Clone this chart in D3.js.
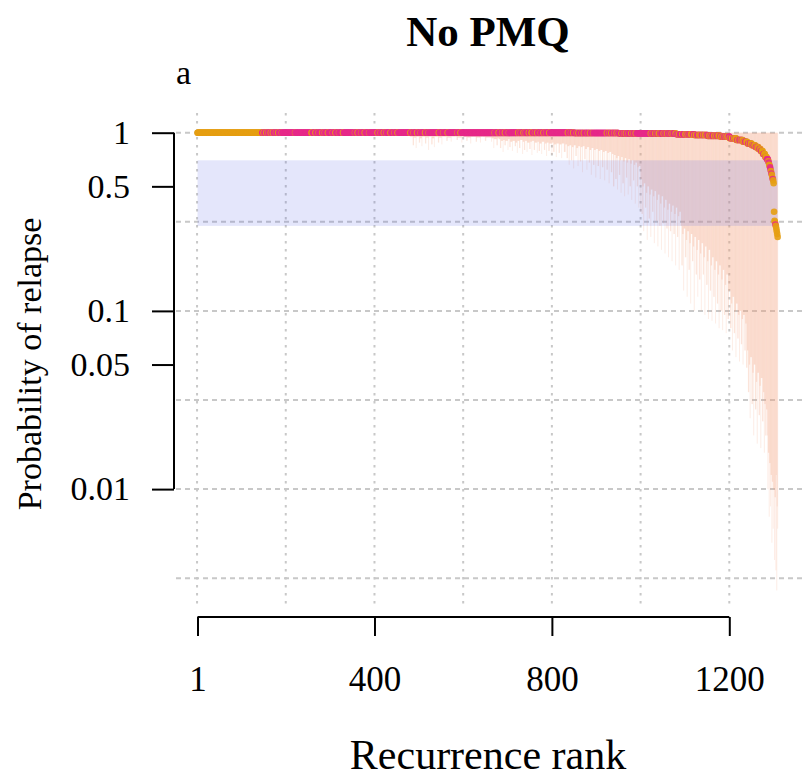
<!DOCTYPE html>
<html>
<head>
<meta charset="utf-8">
<script src="https://cdn.jsdelivr.net/npm/d3@7"></script>
<style>
  html, body { margin: 0; padding: 0; background: #fff; }
  svg text { font-family: "Liberation Serif", "DejaVu Serif", serif; fill: #000; }
</style>
</head>
<body>
<svg id="chart" width="802" height="779"></svg>
<script>
// ---- Data -------------------------------------------------------------
// Posterior probability of relapse per recurrence, sorted by rank.
// Stored as runs: [number of recurrences, probability].
const probRuns = [
  [600, 0.999], [250, 0.998], [100, 0.996], [70, 0.993], [60, 0.99],
  [40, 0.98], [30, 0.97], [30, 0.96], [20, 0.95], [15, 0.93], [15, 0.91],
  [10, 0.89], [10, 0.87], [8, 0.85], [7, 0.83], [5, 0.81], [5, 0.79],
  [5, 0.76], [4, 0.73], [3, 0.71]
];
// Last recurrences, one value each.
const probTail = [
  0.69, 0.68, 0.66, 0.65, 0.64, 0.62, 0.61, 0.59, 0.58, 0.56, 0.55, 0.54, 0.52,
  0.36, 0.32, 0.315, 0.305, 0.30, 0.29, 0.28, 0.27, 0.26
];

// Group of each recurrence (o = first group, p = second group), as runs.
const groupRuns = [
  [146,'o'],
  [3,'p'],[2,'o'],[4,'p'],[2,'o'],[3,'p'],[1,'o'],[4,'p'],[2,'o'],[3,'p'],[2,'o'],[5,'p'],[1,'o'],[4,'p'],[2,'o'],[6,'p'],[1,'o'],[9,'p'],
  [20,'p'],[1,'o'],[36,'p'],
  [3,'o'],[6,'p'],[2,'o'],[5,'p'],[1,'o'],[7,'p'],[2,'o'],[4,'p'],[1,'o'],[6,'p'],[2,'o'],[9,'p'],[1,'o'],[5,'p'],[2,'o'],[6,'p'],[1,'o'],[8,'p'],[2,'o'],[10,'p'],
  [15,'p'],[1,'o'],[5,'p'],[2,'o'],[6,'p'],[1,'o'],[7,'p'],[2,'o'],[8,'p'],[1,'o'],[12,'p'],
  [6,'p'],[2,'o'],[5,'p'],[1,'o'],[6,'p'],[2,'o'],[4,'p'],[1,'o'],[8,'p'],[2,'o'],[7,'p'],[1,'o'],[6,'p'],[2,'o'],[17,'p'],
  [10,'p'],[2,'o'],[5,'p'],[1,'o'],[7,'p'],[2,'o'],[6,'p'],[1,'o'],[9,'p'],[2,'o'],[6,'p'],[1,'o'],[18,'p'],
  [4,'p'],[2,'o'],[8,'p'],[1,'o'],[9,'p'],[2,'o'],[20,'p'],[1,'o'],[6,'p'],[2,'o'],[45,'p'],
  [30,'p'],[1,'o'],[8,'p'],[2,'o'],[6,'p'],[1,'o'],[5,'p'],[2,'o'],[7,'p'],[1,'o'],[17,'p'],
  [3,'p'],[2,'o'],[4,'p'],[1,'o'],[5,'p'],[2,'o'],[3,'p'],[1,'o'],[6,'p'],[2,'o'],[4,'p'],[3,'o'],[5,'p'],[1,'o'],[4,'p'],[2,'o'],[6,'p'],[1,'o'],[5,'p'],[2,'o'],[4,'p'],[1,'o'],[6,'p'],[2,'o'],[25,'p'],
  [15,'p'],[2,'o'],[5,'p'],[1,'o'],[4,'p'],[2,'o'],[6,'p'],[1,'o'],[3,'p'],[2,'o'],[5,'p'],[1,'o'],[4,'p'],[2,'o'],[7,'p'],[1,'o'],[4,'p'],[2,'o'],[5,'p'],[1,'o'],[27,'p'],
  [3,'p'],[2,'o'],[4,'p'],[1,'o'],[3,'p'],[2,'o'],[5,'p'],[1,'o'],[4,'p'],[2,'o'],[3,'p'],[1,'o'],[5,'p'],[2,'o'],[4,'p'],[1,'o'],[3,'p'],[2,'o'],[4,'p'],[1,'o'],[5,'p'],[2,'o'],[3,'p'],[1,'o'],[4,'p'],[2,'o'],[30,'p'],
  [2,'p'],[2,'o'],[3,'p'],[1,'o'],[4,'p'],[2,'o'],[2,'p'],[1,'o'],[3,'p'],[3,'o'],[2,'p'],[1,'o'],[5,'p'],[2,'o'],[3,'p'],[1,'o'],[2,'p'],[2,'o'],[4,'p'],[1,'o'],[3,'p'],[2,'o'],[2,'p'],[1,'o'],[4,'p'],[2,'o'],[3,'p'],[1,'o'],[2,'p'],[2,'o'],[5,'p'],[2,'o'],[5,'p'],
  [3,'o'],[2,'p'],[2,'o'],[3,'p'],[1,'o'],[2,'p'],[4,'o'],[3,'p'],[2,'o'],[2,'p'],[3,'o'],[4,'p'],[2,'o'],[1,'p'],[3,'o'],[3,'p'],[2,'o'],[2,'p'],[4,'o'],[2,'p'],[1,'o'],[3,'p'],[3,'o'],[2,'p'],[2,'o'],[4,'p'],[3,'o'],[2,'p'],[2,'o'],[3,'p'],[4,'o'],[2,'p'],[3,'o'],[2,'p'],[2,'o'],[3,'p'],[2,'o'],[2,'p'],[3,'o'],[2,'p'],
  [2,'o'],[3,'p'],[3,'o'],[2,'p'],[2,'o'],[1,'p'],[4,'o'],[2,'p'],[3,'o'],[3,'p'],[2,'o'],[2,'p'],[3,'o'],[1,'p'],[2,'o'],[3,'p'],[4,'o'],[2,'p'],[2,'o'],[2,'p'],[3,'o'],[1,'p'],[2,'o'],[2,'p'],[3,'o'],[2,'p'],[2,'o'],[1,'p'],[3,'o'],[2,'p'],[2,'o'],[2,'p'],[3,'o'],[2,'p'],[2,'o'],[1,'p'],[3,'o'],[3,'p'],
  [1,'o'],[1,'p'],[2,'o'],[2,'p'],[1,'o'],[1,'p'],[2,'o'],[1,'p'],[2,'o'],
  [3,'o'],[1,'p'],[5,'o']
];

// Lower end of each credible interval (upper end is 1), as runs
// [number of recurrences, lower bound].
const lowerRuns = [
  [250,0.985],[230,0.97],
  // ranks 481-680
  [6,0.95],[2,0.85],[5,0.94],[1,0.82],[6,0.95],[2,0.88],[4,0.93],[1,0.84],[7,0.95],[2,0.87],[5,0.94],[1,0.8],
  [6,0.95],[2,0.86],[4,0.93],[1,0.83],[8,0.95],[2,0.88],[6,0.94],[1,0.86],[10,0.95],[2,0.9],[8,0.94],[1,0.89],
  [12,0.95],[2,0.91],[9,0.94],[1,0.88],[10,0.95],[2,0.9],[7,0.94],[1,0.87],[11,0.95],[2,0.89],[8,0.94],[1,0.88],
  [10,0.95],[2,0.9],[12,0.94],[1,0.89],[4,0.93],[1,0.82],[6,0.92],[2,0.85],[3,0.93],
  // ranks 681-830
  [3,0.92],[2,0.82],[4,0.9],[1,0.78],[3,0.91],[2,0.85],[5,0.9],[1,0.8],[3,0.92],[2,0.83],[4,0.89],[1,0.79],
  [5,0.9],[2,0.84],[3,0.88],[1,0.77],[4,0.9],[2,0.82],[5,0.91],[1,0.76],[3,0.89],[2,0.8],[4,0.9],[1,0.78],
  [5,0.88],[2,0.81],[3,0.89],[1,0.75],[4,0.9],[2,0.8],[5,0.88],[1,0.77],[3,0.89],[2,0.79],[4,0.87],[1,0.76],
  [5,0.89],[2,0.8],[3,0.87],[1,0.74],[4,0.88],[2,0.79],[5,0.87],[1,0.75],[3,0.88],[2,0.78],[4,0.86],[1,0.73],
  [5,0.87],[2,0.77],[4,0.86],[1,0.72],[5,0.87],[3,0.78],
  // ranks 831-940
  [3,0.86],[2,0.72],[3,0.84],[1,0.66],[4,0.85],[2,0.7],[3,0.83],[1,0.63],[4,0.85],[2,0.74],[3,0.82],[1,0.65],
  [4,0.84],[2,0.69],[3,0.83],[1,0.6],[4,0.84],[2,0.71],[3,0.81],[1,0.62],[4,0.83],[2,0.68],[3,0.8],[1,0.58],
  [4,0.82],[2,0.66],[3,0.8],[1,0.56],[4,0.81],[2,0.65],[3,0.79],[1,0.55],[4,0.8],[2,0.64],[3,0.78],[1,0.54],
  [4,0.79],[2,0.62],[3,0.77],[1,0.52],[4,0.78],[2,0.6],[3,0.76],[2,0.5],
  // ranks 941-1000
  [3,0.75],[2,0.55],[2,0.72],[1,0.48],[3,0.74],[2,0.58],[2,0.7],[1,0.46],[3,0.73],[2,0.52],[2,0.69],[1,0.44],
  [3,0.72],[2,0.56],[2,0.68],[1,0.45],[3,0.71],[2,0.5],[2,0.67],[1,0.42],[3,0.7],[2,0.54],[2,0.66],[1,0.4],
  [3,0.68],[2,0.5],[2,0.64],[1,0.38],[3,0.65],[1,0.36],
  // ranks 1001-1090
  [2,0.55],[2,0.35],[2,0.5],[1,0.28],[3,0.52],[2,0.38],[2,0.46],[1,0.25],[3,0.5],[2,0.33],[2,0.45],[1,0.26],
  [3,0.48],[2,0.36],[2,0.44],[1,0.24],[3,0.47],[2,0.32],[2,0.42],[1,0.23],[3,0.45],[2,0.3],[2,0.4],[1,0.22],
  [3,0.44],[2,0.31],[2,0.38],[1,0.21],[3,0.42],[2,0.29],[2,0.37],[1,0.2],[3,0.4],[2,0.28],[2,0.36],[1,0.19],
  [3,0.39],[2,0.27],[2,0.35],[1,0.18],[3,0.38],[2,0.26],[2,0.34],[1,0.17],[3,0.36],
  // ranks 1091-1200
  [2,0.3],[2,0.18],[2,0.27],[1,0.13],[3,0.29],[2,0.2],[2,0.25],[1,0.12],[3,0.28],[2,0.17],[2,0.24],[1,0.11],
  [3,0.27],[2,0.19],[2,0.23],[1,0.1],[3,0.26],[2,0.16],[2,0.22],[1,0.12],[3,0.25],[2,0.15],[2,0.21],[1,0.1],
  [3,0.24],[2,0.16],[2,0.2],[1,0.095],[3,0.23],[2,0.14],[2,0.19],[1,0.09],[3,0.22],[2,0.13],[2,0.18],[1,0.088],
  [3,0.2],[2,0.12],[2,0.17],[1,0.085],[3,0.19],[2,0.11],[2,0.16],[1,0.08],[3,0.18],[2,0.1],[2,0.15],[1,0.078],
  [3,0.17],[2,0.095],[2,0.14],[1,0.075],[3,0.16],[2,0.09],[2,0.13],
  // ranks 1201-1240
  [2,0.13],[2,0.08],[2,0.11],[1,0.06],[3,0.12],[2,0.075],[2,0.1],[1,0.055],[3,0.11],[2,0.07],[2,0.095],[1,0.052],
  [3,0.1],[2,0.065],[2,0.09],[1,0.05],[3,0.095],[2,0.06],[2,0.085],[2,0.048],
  // ranks 1241-1285
  [2,0.06],[2,0.035],[2,0.05],[1,0.025],[3,0.055],[2,0.03],[2,0.045],[1,0.02],[3,0.05],[2,0.028],[2,0.04],[1,0.018],
  [3,0.045],[2,0.026],[2,0.038],[1,0.017],[3,0.042],[2,0.024],[2,0.035],[1,0.016],[2,0.03],[2,0.02],[2,0.028],
  // ranks 1286-1309
  [1,0.02],[1,0.01],[2,0.016],[1,0.007],[2,0.014],[1,0.008],[2,0.012],[1,0.005],[2,0.011],[1,0.006],
  [2,0.01],[1,0.004],[2,0.009],[1,0.0035],[1,0.012],[1,0.0027],[1,0.008],[1,0.006]
];

// Reference band of plausible relapse probabilities.
const band = [0.3, 0.7];

// Axis ticks and labels.
const xTicks = [1, 400, 800, 1200];
const yTicks = [1, 0.5, 0.1, 0.05, 0.01];
const yTickLabels = ["1", "0.5", "0.1", "0.05", "0.01"];
const xGrid = [0, 200, 400, 600, 800, 1000, 1200];
const yGrid = [1, 0.316, 0.1, 0.0316, 0.01, 0.00316];

const title = "No PMQ";
const panelLabel = "a";
const xTitle = "Recurrence rank";
const yTitle = "Probability of relapse";

// ---- Expand runs into one record per recurrence -------------------------
const expand = runs => runs.flatMap(([n, v]) => Array(n).fill(v));
const probs = expand(probRuns).concat(probTail);
const groups = expand(groupRuns);
const lowers = expand(lowerRuns);
const N = probs.length;
const recs = probs.map((p, i) => ({
  rank: i + 1,
  p: p,
  group: groups[i] || 'o',
  lo: lowers[i] !== undefined ? lowers[i] : lowers[lowers.length - 1],
  hi: 1
}));

// ---- Scales ----------------------------------------------------------
const x = d3.scaleLinear().domain([1, 1200]).range([197.5, 729.3]);
const y = d3.scaleLog().domain([1, 0.01]).range([132.7, 489.1]);
const colour = { o: "#e69f12", p: "#e7298a" };

const svg = d3.select("#chart");

// Grid
const grid = svg.append("g").attr("stroke", "#c8c8c8").attr("stroke-width", 2).attr("fill", "none");
grid.selectAll("line.h").data(yGrid).join("line")
  .attr("class", "h")
  .attr("x1", 176).attr("x2", 802)
  .attr("y1", d => y(d)).attr("y2", d => y(d))
  .attr("stroke-dasharray", "5,4");
grid.selectAll("line.v").data(xGrid).join("line")
  .attr("class", "v")
  .attr("x1", d => x(d)).attr("x2", d => x(d))
  .attr("y1", 113).attr("y2", 606)
  .attr("stroke-dasharray", "2.5,5.5");

// Credible intervals, one thin translucent bar per recurrence
svg.append("g").selectAll("rect").data(recs).join("rect")
  .attr("x", d => x(d.rank) - 0.5)
  .attr("width", 1)
  .attr("y", d => y(d.hi))
  .attr("height", d => y(d.lo) - y(d.hi))
  .attr("fill", "#f4a582")
  .attr("fill-opacity", 0.2);

// Reference band
svg.append("rect")
  .attr("x", x(1)).attr("width", x(N) - x(1))
  .attr("y", y(band[1])).attr("height", y(band[0]) - y(band[1]))
  .attr("fill", "#5a64e6").attr("fill-opacity", 0.16);

// Point estimates
svg.append("g").selectAll("circle").data(recs).join("circle")
  .attr("cx", d => x(d.rank))
  .attr("cy", d => y(d.p))
  .attr("r", 3.3)
  .attr("fill", d => colour[d.group])
  .attr("fill-opacity", 0.9);

// Y axis
const yAxis = svg.append("g").attr("transform", "translate(174,0)")
  .call(d3.axisLeft(y).tickValues(yTicks).tickFormat((d, i) => yTickLabels[i]).tickSize(22).tickPadding(22));
yAxis.select(".domain").attr("d", `M0,${y(1)}V${y(0.01)}`).attr("stroke-width", 2);
yAxis.selectAll("line").attr("stroke-width", 2);
yAxis.selectAll("text").attr("font-size", 34);

// X axis
const xAxis = svg.append("g").attr("transform", "translate(0,617)")
  .call(d3.axisBottom(x).tickValues(xTicks).tickFormat(d3.format("d")).tickSize(19).tickPadding(30));
xAxis.select(".domain").attr("d", `M${x(1)},0H${x(1200)}`).attr("stroke-width", 2);
xAxis.selectAll("line").attr("stroke-width", 2);
xAxis.selectAll("text").attr("font-size", 35);

// Titles
svg.append("text").attr("x", 488).attr("y", 46).attr("text-anchor", "middle")
  .attr("font-size", 43).attr("font-weight", "bold").text(title);
svg.append("text").attr("x", 176).attr("y", 84).attr("font-size", 34).text(panelLabel);
svg.append("text").attr("x", 488).attr("y", 769).attr("text-anchor", "middle")
  .attr("font-size", 42).text(xTitle);
svg.append("text").attr("transform", "translate(41,364) rotate(-90)").attr("text-anchor", "middle")
  .attr("font-size", 34).text(yTitle);
</script>
</body>
</html>
